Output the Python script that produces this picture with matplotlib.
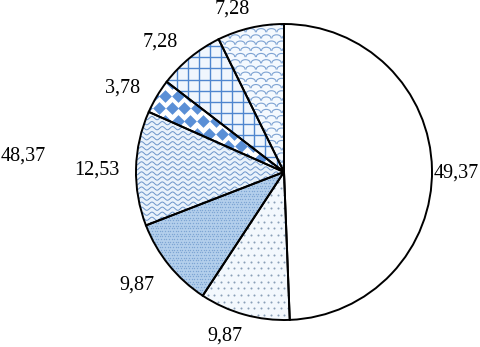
import numpy as np
import matplotlib
matplotlib.use("Agg")
import matplotlib.pyplot as plt
from matplotlib.patches import Wedge

values = [49.37, 9.87, 9.87, 12.53, 3.78, 7.28, 7.28]
labels = ["49,37", "9,87", "9,87", "12,53", "3,78", "7,28", "7,28"]
extra_label = "48,37"

# label positions (layout: x centre, baseline y, in pie-radius units)
label_pos = [(1.162, -0.04), (-0.40, -1.14), (-0.993, -0.797), (-1.263, -0.02),
             (-1.088, 0.534), (-0.838, 0.845), (-0.351, 1.068)]
extra_pos = (-1.76, 0.075)

plt.rcParams['font.family'] = ['Liberation Serif', 'DejaVu Serif']

fig = plt.figure(figsize=(4.8, 3.47), dpi=100)
ax = fig.add_axes([0, 0, 1, 1])
R = 148.0
CX, CY = 284.0, 172.0

faces = ['white', '#f3f8fd', '#b3cfec', '#e9f2fb', 'white', '#f0f6fd', '#f4f9fe']
wedges, _ = ax.pie(values, startangle=90, counterclock=False, radius=1,
                   colors=faces, wedgeprops=dict(edgecolor='none', linewidth=0))

ax.set_xlim(-CX / R, (480 - CX) / R)
ax.set_ylim(-(347 - CY) / R, CY / R)
ax.set_aspect('equal')
ax.axis('off')

blue = '#4f86cf'

def clip(artists, w):
    for a in artists:
        a.set_clip_path(w)

def wavy(w, spacing, period, amp, color, lw=0.8):
    t = np.linspace(-1.2, 1.2, 800)
    arts = []
    for k in np.arange(-1.2, 1.2, spacing):
        y = k + amp * np.sin(2 * np.pi * t / period)
        arts += ax.plot(t, y, color=color, lw=lw, zorder=2)
    clip(arts, w)

def dots(w, spacing, size, color, marker='o', stagger=True):
    pts = []
    for i, yy in enumerate(np.arange(-1.1, 1.1, spacing)):
        off = spacing / 2 if (stagger and i % 2) else 0
        for xx in np.arange(-1.1, 1.1, spacing):
            pts.append((xx + off, yy))
    pts = np.array(pts)
    sc = ax.scatter(pts[:, 0], pts[:, 1], s=size, c=color, marker=marker,
                    linewidths=0, zorder=2)
    sc.set_clip_path(w)

def grid(w, spacing, color, lw=1.0):
    arts = []
    for k in np.arange(-1.1, 1.1, spacing):
        arts += ax.plot([k, k], [-1.1, 1.1], color=color, lw=lw, zorder=2)
        arts += ax.plot([-1.1, 1.1], [k, k], color=color, lw=lw, zorder=2)
    clip(arts, w)

def scallops(w, spacing, color, lw=0.8):
    arts = []
    r = spacing / 2
    th = np.linspace(0, np.pi, 20)
    for i, yy in enumerate(np.arange(-1.1, 1.1, spacing * 0.6)):
        off = r if i % 2 else 0
        for xx in np.arange(-1.1, 1.1, spacing):
            arts += ax.plot(xx + off + r * np.cos(th) * 0.9,
                            yy + r * 0.6 * np.sin(th) - 0.01, color=color, lw=lw, zorder=2)
    clip(arts, w)

# patterns
dots(wedges[1], 0.045, 2.2, '#8aa0b8')
dots(wedges[2], 0.018, 1.0, '#7ea6d4', stagger=True)
wavy(wedges[3], 0.034, 0.07, 0.011, '#6b94c9', lw=0.7)
dots(wedges[4], 0.085, 42, '#5a8fd6', marker='D')
grid(wedges[5], 0.075, blue, lw=1.0)
scallops(wedges[6], 0.07, '#7ea3d3', lw=0.8)

# outlines
for w in wedges:
    ax.add_patch(Wedge(w.center, w.r, w.theta1, w.theta2, facecolor='none',
                       edgecolor='black', linewidth=1.4, zorder=3))

for lab, (x, y) in zip(labels, label_pos):
    ax.text(x, y, lab, ha='center', va='baseline', fontsize=14.5, color='black')
ax.text(extra_pos[0], extra_pos[1], extra_label, ha='center', va='baseline',
        fontsize=14.5, color='black')

fig.savefig('out.png', dpi=100)
